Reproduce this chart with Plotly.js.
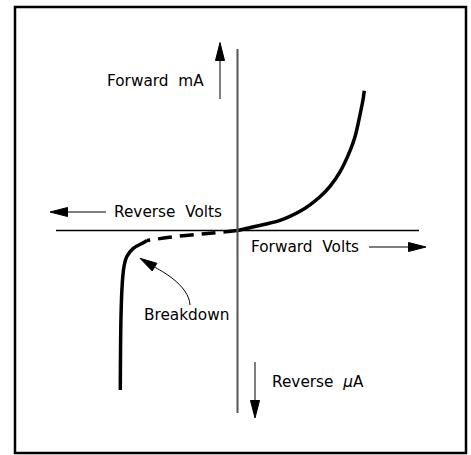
<!DOCTYPE html>
<html>
<head>
<meta charset="utf-8">
<script src="https://cdn.plot.ly/plotly-3.0.1.min.js"></script>
<style>html,body{margin:0;padding:0;background:#fff;}</style>
</head>
<body>
<div id="chart" style="width:471px;height:455px;"></div>
<script>
// Schematic diode I-V characteristic (arbitrary units, origin at axis crossing)
const forwardV = [0, 1.5, 3.0, 4.25, 5.25, 6.25, 7.25, 8.25, 9.25, 10.25, 11.25, 11.75, 12.25, 12.55, 12.68];
const forwardI = [0, 0.35, 0.68, 1.02, 1.42, 1.92, 2.57, 3.37, 4.42, 5.87, 7.97, 9.37, 11.57, 13.07, 13.98];

const leakageV = [0, -3.0, -6.0, -9.05];
const leakageI = [0, -0.3, -0.58, -1.0];

const breakdownV = [-9.05, -9.42, -10.42, -11.08, -11.35, -11.52, -11.65, -11.72];
const breakdownI = [-1.0, -1.22, -1.78, -2.62, -3.6, -5.25, -8.62, -15.95];

const axisLabels = ["Forward\u00A0 mA", "Reverse\u00A0 Volts", "Forward\u00A0 Volts", "Reverse\u00A0 <i>μ</i>A", "Breakdown"];

const curveLine = {color: '#000', width: 3.5, shape: 'spline', smoothing: 1};

const traces = [
  {x: forwardV, y: forwardI, mode: 'lines', line: curveLine, hoverinfo: 'skip'},
  {x: leakageV, y: leakageI, mode: 'lines', line: Object.assign({}, curveLine, {dash: '14px,8px'}), hoverinfo: 'skip'},
  {x: breakdownV, y: breakdownI, mode: 'lines', line: curveLine, hoverinfo: 'skip'}
];

const font = {family: 'DejaVu Sans', size: 15.3, color: '#000'};
const thin = {color: '#000', width: 1};

function head(tx, ty, a, b, c, d) {
  return {type: 'path', xref: 'x', yref: 'y', path: `M${tx},${ty} L${a},${b} L${c},${d} Z`,
          fillcolor: '#000', line: {color: '#000', width: 1}};
}

const shapes = [
  // frame
  {type: 'rect', xref: 'paper', yref: 'paper', x0: 15/471, x1: 466/471, y0: 1 - 453/455, y1: 1 - 7/455,
   line: {color: '#000', width: 2.5}},
  // axes
  {type: 'line', xref: 'x', yref: 'y', x0: -18.15, x1: 18.15, y0: 0, y1: 0, line: {color: '#000', width: 1.5}},
  {type: 'line', xref: 'x', yref: 'y', x0: 0, x1: 0, y0: -18.25, y1: 18.15, line: {color: '#555', width: 2}},
  // direction arrows
  {type: 'line', xref: 'x', yref: 'y', x0: -1.75, x1: -1.75, y0: 13.15, y1: 17.2, line: thin},
  head(-1.75, 18.8, -2.2, 17.0, -1.3, 17.0),
  {type: 'line', xref: 'x', yref: 'y', x0: -13.15, x1: -17.2, y0: 1.85, y1: 1.85, line: thin},
  head(-18.75, 1.85, -17.0, 2.3, -17.0, 1.4),
  {type: 'line', xref: 'x', yref: 'y', x0: 13.15, x1: 17.3, y0: -1.65, y1: -1.65, line: thin},
  head(18.85, -1.65, 17.1, -1.2, 17.1, -2.1),
  {type: 'line', xref: 'x', yref: 'y', x0: 1.75, x1: 1.75, y0: -13.15, y1: -17.2, line: thin},
  head(1.75, -18.75, 1.3, -17.0, 2.2, -17.0),
  // breakdown pointer
  {type: 'path', xref: 'x', yref: 'y', path: 'M-4.75,-7.45 C-4.85,-5.45 -7.75,-3.95 -8.3,-3.66', line: thin},
  head(-9.75, -2.78, -8.06, -3.28, -8.53, -4.05)
];

const annotations = [
  {x: -3.15, y: 14.95, text: axisLabels[0], xanchor: 'right', yanchor: 'middle'},
  {x: -12.55, y: 1.85, text: axisLabels[1], xanchor: 'left', yanchor: 'middle'},
  {x: 1.15, y: -1.65, text: axisLabels[2], xanchor: 'left', yanchor: 'middle'},
  {x: 3.2, y: -15.15, text: axisLabels[3], xanchor: 'left', yanchor: 'middle'},
  {x: -5.15, y: -8.45, text: axisLabels[4], xanchor: 'center', yanchor: 'middle'}
].map(a => Object.assign({xref: 'x', yref: 'y', showarrow: false, font: font}, a));

const layout = {
  width: 471, height: 455,
  margin: {l: 0, r: 0, t: 0, b: 0, pad: 0},
  paper_bgcolor: '#fff', plot_bgcolor: '#fff',
  showlegend: false,
  xaxis: {range: [-23.75, 23.35], visible: false, fixedrange: true},
  yaxis: {range: [-22.45, 23.05], visible: false, fixedrange: true},
  shapes: shapes,
  annotations: annotations
};

Plotly.newPlot('chart', traces, layout, {staticPlot: true, displayModeBar: false});
</script>
</body>
</html>
